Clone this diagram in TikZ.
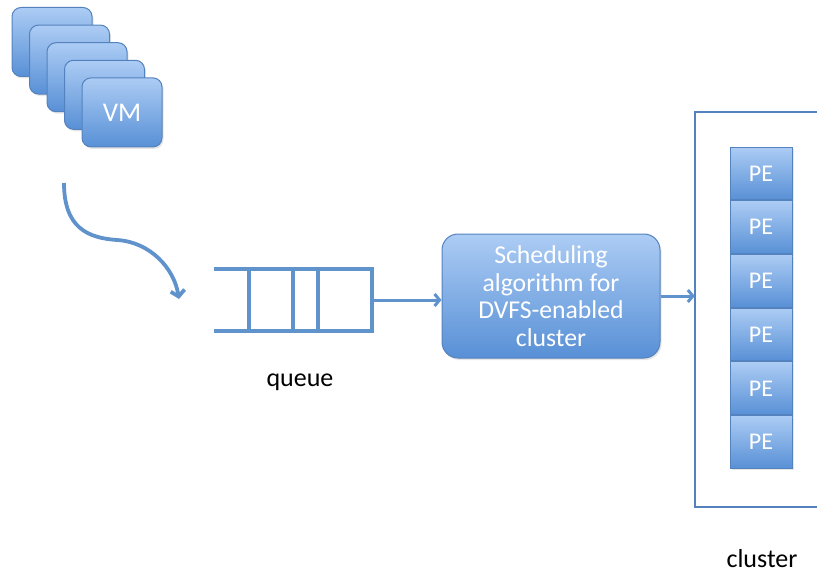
\documentclass[tikz,border=0pt]{standalone}
\usepackage{fontspec}
\setmainfont{Carlito}
\usetikzlibrary{positioning, arrows.meta, shadows}

\definecolor{boxtop}{RGB}{172,204,244}
\definecolor{boxbot}{RGB}{88,144,214}
\definecolor{boxline}{RGB}{84,130,190}
\definecolor{flowline}{RGB}{96,146,204}

\begin{document}
\begin{tikzpicture}[
    x=1pt, y=-1pt,
    bluebox/.style={
        draw=boxline,
        line width=1pt,
        top color=boxtop,
        bottom color=boxbot,
        text=white,
        inner sep=0pt,
        drop shadow={shadow xshift=1.5pt, shadow yshift=-2pt, opacity=0.2}
    },
    vmbox/.style={
        bluebox,
        rounded corners=9pt,
        minimum width=80pt,
        minimum height=69pt,
        font=\fontsize{27}{31}\selectfont
    },
    pebox/.style={
        bluebox,
        minimum width=62pt,
        minimum height=52.7pt,
        font=\fontsize{24}{28}\selectfont
    },
    flow/.style={
        draw=flowline,
        line width=3pt,
        -{Straight Barb[length=5pt, width=12pt]}
    },
    plain/.style={font=\fontsize{26}{30}\selectfont, inner sep=0pt}
]
\useasboundingbox (0,0) rectangle (817,575);

% stack of VMs
\foreach \i in {0,...,4}{
    \node[vmbox] (vm\i) at (52+17.5*\i, 42+17.6*\i) {\ifnum\i=4 VM\fi};
}

% curved arrow into the queue
\coordinate (curvestart) at (64,183);
\coordinate (curvemid) at (117,240);
\coordinate (curveend) at (179,299);
\draw[flow, line width=3.8pt, -{Straight Barb[length=6pt, width=14pt]}]
    (curvestart) .. controls (64,228) and (88,238) .. (curvemid)
    .. controls (150,242) and (174,268) .. (curveend);

% queue
\node[minimum width=158pt, minimum height=62pt, inner sep=0pt] (queue) at (293,300) {};
\draw[flowline, line width=3.5pt]
    (queue.north west) -- (queue.north east) -- (queue.south east) -- (queue.south west);
\foreach \qx in {249,293,318}{
    \draw[flowline, line width=3.5pt] (\qx,269) -- (\qx,331);
}
\node[plain] (queuelabel) at (300,382) {queue};

% scheduler
\node[bluebox, rounded corners=16pt, minimum width=218pt, minimum height=124pt,
      align=center, font=\fontsize{25.7}{27.5}\selectfont] (sched) at (551,296)
    {Scheduling\\algorithm for\\DVFS-enabled\\cluster};

% cluster
\node[minimum width=122pt, minimum height=395pt, inner sep=0pt] (cluster) at (756,309.5) {};
\draw[boxline, line width=1.6pt]
    (cluster.north east) -- (cluster.north west) -- (cluster.south west) -- (cluster.south east);

\node[pebox] (pe1) at (761,173.5) {PE};
\foreach \i [count=\prev from 1] in {2,...,6}{
    \node[pebox, below=0pt of pe\prev] (pe\i) {PE};
}
\node[plain] (clusterlabel) at (762,559) {cluster};

% connectors
\draw[flow] (queue.east) -- (sched.west |- queue.east);
\draw[flow] (sched.east) -- (cluster.west |- sched.east);

\end{tikzpicture}
\end{document}
